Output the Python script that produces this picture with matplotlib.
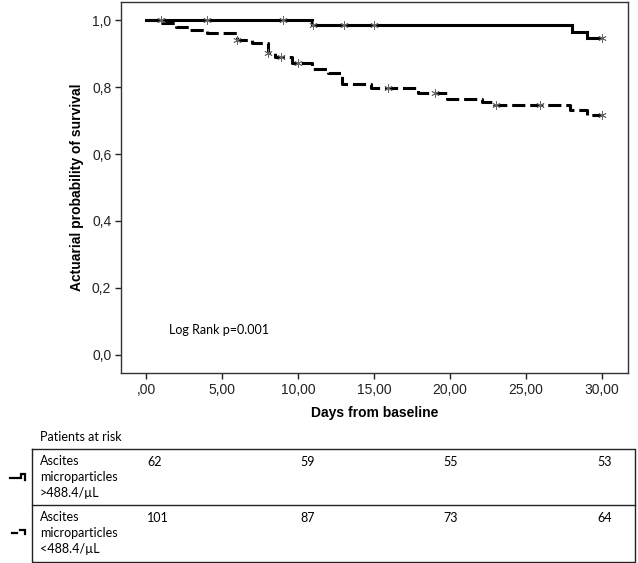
import numpy as np
import matplotlib as mpl
mpl.use('Agg')
import matplotlib.pyplot as plt
from matplotlib.ticker import FuncFormatter

# Kaplan-Meier steps (days, survival after step)
t_hi = [0, 10.9, 28.0, 29.0, 30.0]
s_hi = [1.0, 0.984, 0.965, 0.947, 0.947]
cens_hi = [1.0, 4.0, 9.0, 11.0, 13.0, 15.0, 30.0]

t_lo = [0, 1.05, 2.0, 2.9, 4.0, 6.0, 6.95, 8.0, 8.5, 9.6, 10.9, 12.0, 12.9,
        14.8, 17.9, 19.8, 22.1, 22.9, 27.9, 29.0, 30.0]
s_lo = [1.0, 0.990, 0.980, 0.970, 0.960, 0.940, 0.932, 0.901, 0.891, 0.871,
        0.853, 0.843, 0.808, 0.796, 0.781, 0.764, 0.755, 0.746, 0.731, 0.716,
        0.716]
cens_lo = [1.0, 6.0, 8.0, 8.9, 10.0, 15.9, 19.0, 23.0, 25.9, 30.0]

risk_hi = [62, 59, 55, 53]
risk_lo = [101, 87, 73, 64]
row_hi = 'Ascites\nmicroparticles\n>488.4/µL'
row_lo = 'Ascites\nmicroparticles\n<488.4/µL'

plt.rcParams['font.family'] = ['Liberation Sans', 'DejaVu Sans']
TABFONT = ['Lato', 'DejaVu Sans']

W, H = 638, 563
fig = plt.figure(figsize=(W / 100, H / 100), dpi=100)
ax = fig.add_axes([121 / W, 1 - 373 / H, 507 / W, 371 / H])


def at(t, s, x):
    i = np.searchsorted(t, x, side='right') - 1
    return np.asarray(s)[i]


lw = 2.2
ax.plot(t_hi, s_hi, drawstyle='steps-post', color='black', lw=lw,
        solid_joinstyle='miter')
ax.plot(t_lo, s_lo, drawstyle='steps-post', color='black', lw=lw,
        dashes=(4.3, 1.6), dash_capstyle='butt')
for t, s, c in [(t_hi, s_hi, cens_hi), (t_lo, s_lo, cens_lo)]:
    ax.plot(c, at(t, s, c), ls='none', marker=(6, 2, 0), ms=6, mew=0.6,
            color='#666666', zorder=5)

ax.set_xlim(-1.64, 31.7)
ax.set_ylim(-0.054, 1.054)
ax.set_xticks([0, 5, 10, 15, 20, 25, 30])
ax.set_yticks([0, 0.2, 0.4, 0.6, 0.8, 1.0])


def xfmt(v, pos):
    s = f'{v:.2f}'.replace('.', ',')
    return s[1:] if s.startswith('0,') else s


ax.xaxis.set_major_formatter(FuncFormatter(xfmt))
ax.yaxis.set_major_formatter(FuncFormatter(lambda v, p: f'{v:.1f}'.replace('.', ',')))
ax.tick_params(direction='out', length=4.5, width=1.0, labelsize=10, pad=2.5,
               colors='#222222')
for sp in ax.spines.values():
    sp.set_linewidth(1.0)
    sp.set_color('#333333')

ax.set_xlabel('Days from baseline', fontsize=10, fontweight='bold', labelpad=7)
ax.set_ylabel('Actuarial probability of survival', fontsize=10,
              fontweight='bold', labelpad=6)
ax.text(1.5, 0.075, 'Log Rank p=0.001', fontsize=9, family=TABFONT,
        va='center', ha='left')

# patients-at-risk table drawn in pixel coordinates
tab = fig.add_axes([0, 0, 1, 1], facecolor='none')
tab.set_xlim(0, W)
tab.set_ylim(H, 0)
tab.axis('off')

tab.text(40, 437, 'Patients at risk', fontsize=9, family=TABFONT,
         va='center', ha='left')
tab.plot([32, 635, 635, 32, 32], [449, 449, 561.5, 561.5, 449],
         color='#222222', lw=1.0)
tab.plot([32, 635], [505, 505], color='#222222', lw=1.0)

col_x = [147, 300, 443, 597]
for y0, label, vals in [(462, row_hi, risk_hi), (518, row_lo, risk_lo)]:
    tab.text(40, y0 - 7, label, fontsize=9, family=TABFONT, va='top',
             ha='left', linespacing=1.42)
    for x, v in zip(col_x, vals):
        tab.text(x, y0, str(v), fontsize=9, family=TABFONT, va='center',
                 ha='left')

# small line-style keys next to the rows
tab.plot([10, 20.5, 20.5, 25, 25], [478, 478, 474, 474, 480], color='black',
         lw=1.6, solid_joinstyle='miter')
tab.plot([12, 17], [533, 533], color='black', lw=1.6)
tab.plot([19.5, 25, 25], [529.5, 529.5, 534], color='black', lw=1.6,
         solid_joinstyle='miter')

fig.savefig('out.png', dpi=100)
